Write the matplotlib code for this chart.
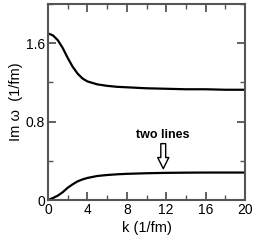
import matplotlib
matplotlib.use("Agg")
import matplotlib.pyplot as plt
from matplotlib.ticker import MultipleLocator

plt.rcParams['font.family'] = ['Liberation Sans', 'DejaVu Sans']

# values
k = [0, 0.5, 1, 1.5, 2, 2.5, 3, 3.5, 4, 5, 6, 7, 8, 10, 12, 14, 16, 18, 20]
im_upper = [1.70, 1.68, 1.63, 1.55, 1.45, 1.36, 1.29, 1.24, 1.21, 1.18, 1.165,
            1.155, 1.15, 1.14, 1.135, 1.13, 1.13, 1.125, 1.125]
im_lower = [0.0, 0.02, 0.045, 0.08, 0.125, 0.16, 0.19, 0.21, 0.225, 0.245, 0.255,
            0.262, 0.267, 0.273, 0.277, 0.279, 0.28, 0.28, 0.28]

fig = plt.figure(figsize=(2.62, 2.42), dpi=100)
ax = fig.add_axes([48 / 262, 42 / 242, 197 / 262, 196 / 242])

ax.plot(k, im_upper, color="black", lw=1.6)
ax.plot(k, im_lower, color="black", lw=1.6)

ax.set_xlim(0, 20)
ax.set_ylim(0, 2.0)
ax.xaxis.set_major_locator(MultipleLocator(4))
ax.xaxis.set_minor_locator(MultipleLocator(2))
ax.yaxis.set_minor_locator(MultipleLocator(0.4))
ax.set_yticks([0, 0.8, 1.6])
ax.set_yticklabels(["0", "0.8", "1.6"])

for s in ax.spines.values():
    s.set_color("#555555")
    s.set_linewidth(1.5)
ax.tick_params(which="both", direction="in", top=True, right=True,
               color="#555555", labelsize=10, pad=2)
ax.tick_params(which="major", length=6, width=1.3)
ax.tick_params(which="minor", length=3.5, width=1.0)

ax.set_xlabel("k (1/fm)", fontsize=10.5, labelpad=3)
ax.set_ylabel("Im \u03c9  (1/fm)", fontsize=10.5, labelpad=2)

ax.text(11.7, 0.60, "two lines", ha="center", va="bottom",
        fontsize=9, fontweight="bold")
ax.annotate("", xy=(11.7, 0.32), xytext=(11.7, 0.575),
            arrowprops=dict(arrowstyle="simple,head_width=0.8,head_length=0.8,tail_width=0.35",
                            fc="white", ec="black", lw=1.0,
                            shrinkA=0, shrinkB=0))

fig.savefig("out.png", dpi=100)
